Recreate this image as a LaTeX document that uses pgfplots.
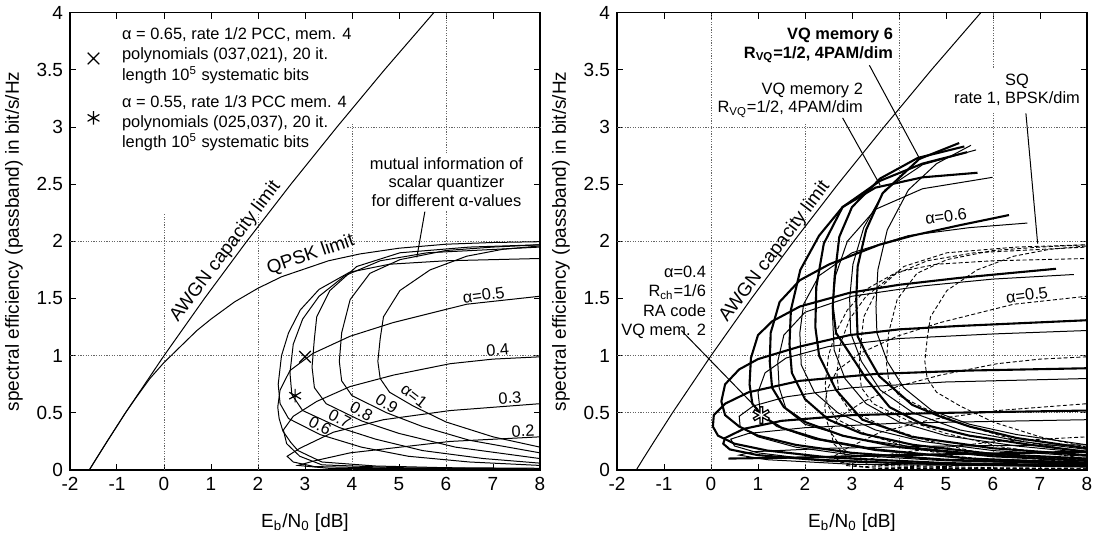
\documentclass[border=0pt]{standalone}
\usepackage{fontspec}
\setmainfont{Liberation Sans}
\usepackage{pgfplots}
\pgfplotsset{compat=1.18}
\usepackage{pgfplotstable}
\newcommand{\af}{\fontsize{8.2}{9.4}\selectfont}
\newcommand{\rf}{\fontsize{9.4}{11}\selectfont}
\newcommand{\tf}{\fontsize{9.5}{11}\selectfont}
\tikzset{
  gridl/.style={black!60, line width=0.5pt, dash pattern=on 0.6pt off 0.7pt},
  thn/.style={black, line width=0.5pt},
  thk/.style={black, line width=1.05pt},
  dsh/.style={black, line width=0.45pt, dash pattern=on 2pt off 1.2pt},
}
\pgfplotsset{
  myaxis/.style={
    scale only axis, width=235pt, height=228.65pt,
    xmin=-2, xmax=8, ymin=0, ymax=4,
    xtick={-2,-1,0,1,2,3,4,5,6,7,8},
    xticklabels={-2,-1,0,1,2,3,4,5,6,7,8},
    ytick={0,0.5,1,1.5,2,2.5,3,3.5,4},
    yticklabels={0,0.5,1,1.5,2,2.5,3,3.5,4},
    tick align=inside, major tick length=3pt,
    xtick pos=both, ytick pos=both,
    xticklabel pos=lower, yticklabel pos=left,
    tick style={black, line width=0.5pt},
    axis line style={line width=0.6pt},
    ticklabel style={font=\tf},
    label style={font=\tf},
    xlabel={E\textsubscript{b}/N\textsubscript{0} [dB]},
    ylabel={spectral efficiency (passband) in bit/s/Hz},
    xlabel style={at={(axis description cs:0.5,-0.114)}, anchor=center},
    ylabel style={at={(axis description cs:-0.119,0.5)}, anchor=center},
    clip mode=individual,
  },
}

\pgfplotstableread{
x y
8 0.2
7 0.29
6 0.42
5.3 0.56
4.8 0.68
4.6 0.8
4.55 0.95
4.6 1.15
4.67 1.34
5.02 1.57
5.66 1.75
6.44 1.87
7.2 1.93
8 1.96
}\sqa
\pgfplotstableread{
x y
8 0.15
6.5 0.26
5.5 0.38
4.74 0.5
4.0 0.65
3.78 0.78
3.73 0.95
3.78 1.2
3.96 1.49
4.38 1.72
5.02 1.84
6 1.92
7 1.95
8 1.97
}\sqb
\pgfplotstableread{
x y
8 0.1
6.2 0.2
5 0.32
4.2 0.43
3.45 0.58
3.2 0.72
3.15 0.9
3.2 1.15
3.25 1.34
3.53 1.57
4.1 1.78
5.02 1.9
6.5 1.95
8 1.97
}\sqc
\pgfplotstableread{
x y
8 0.06
6.8 0.1
5.5 0.17
4.5 0.27
3.74 0.37
2.95 0.52
2.72 0.66
2.68 0.85
2.75 1.1
2.95 1.32
3.3 1.52
3.85 1.7
4.6 1.83
5.6 1.9
8 1.95
}\sqd
\pgfplotstableread{
x y
8 0.04
6.5 0.07
5.2 0.12
4.2 0.2
3.32 0.31
2.65 0.45
2.47 0.58
2.43 0.75
2.5 1.0
2.65 1.2
2.9 1.4
3.3 1.58
3.95 1.73
4.8 1.8
6 1.83
8 1.85
}\sqe
\pgfplotstableread{
x y
8 0.015
6 0.02
4.5 0.035
3.36 0.07
2.85 0.17
2.7 0.24
2.53 0.34
2.45 0.45
2.42 0.55
2.47 0.7
2.68 0.87
3.17 1.02
3.96 1.17
4.88 1.29
6.44 1.45
8 1.52
}\sqf
\pgfplotstableread{
x y
8 0.01
5 0.02
3.36 0.045
2.89 0.12
2.61 0.23
2.54 0.35
2.75 0.47
3.25 0.6
3.96 0.73
4.88 0.83
6.09 0.93
7 0.97
8 0.99
}\sqg
\pgfplotstableread{
x y
8 0.008
5 0.015
3.2 0.03
2.75 0.07
2.62 0.12
2.89 0.19
3.6 0.33
4.67 0.44
6.09 0.52
8 0.58
}\sqh
\pgfplotstableread{
x y
8 0.005
3.5 0.015
2.85 0.04
3.2 0.08
3.96 0.15
6.09 0.25
8 0.29
}\sqi
\pgfplotstableread{
x y
-1.59 0
-1.44 0.1
-1.21 0.25
-0.82 0.5
-0.41 0.75
0 1
0.86 1.5
1.76 2
2.7 2.5
3.68 3
4.69 3.5
5.74 4
}\awgn

\begin{document}
\begin{tikzpicture}
\useasboundingbox (0,0) rectangle (552pt,270.5pt);
% ---------------- LEFT ----------------
\begin{axis}[myaxis, at={(35pt,35.5pt)}, anchor=south west]
\draw[gridl] (axis cs:0,0) -- (axis cs:0,2.25);
\draw[gridl] (axis cs:2,0) -- (axis cs:2,2.25);
\draw[gridl] (axis cs:4,0) -- (axis cs:4,3.03);
\draw[gridl] (axis cs:6,0) -- (axis cs:6,2.27);
\draw[gridl] (axis cs:6,2.77) -- (axis cs:6,4);
\draw[gridl] (axis cs:-2,1) -- (axis cs:8,1);
\draw[gridl] (axis cs:-2,2) -- (axis cs:8,2);
\draw[gridl] (axis cs:3.9,3) -- (axis cs:8,3);

\addplot[thn] table {\awgn};
\addplot[thn] coordinates {(-1.59,0)(-1.21,0.25)(-0.82,0.5)(-0.6,0.63)(-0.3,0.8)(0,0.94)(0.3,1.06)(0.7,1.22)(1,1.32)(1.5,1.47)(2,1.59)(2.5,1.69)(3,1.76)(3.5,1.83)(4.17,1.89)(5,1.94)(6,1.975)(7,1.99)(8,1.997)};
\addplot[thn] table {\sqa};
\addplot[thn] table {\sqb};
\addplot[thn] table {\sqc};
\addplot[thn] table {\sqd};
\addplot[thn] table {\sqe};
\addplot[thn] table {\sqf};
\addplot[thn] table {\sqg};
\addplot[thn] table {\sqh};
\addplot[thn] table {\sqi};

\addplot[only marks, mark=x, mark size=4.1pt, mark options={line width=0.6pt}] coordinates {(3.0,0.99)(-1.5,3.6)};
\addplot[only marks, mark=asterisk, mark size=3.4pt, mark options={line width=0.6pt}] coordinates {(2.79,0.65)(-1.5,3.08)};

\node[font={\fontsize{8.2}{10.4}\selectfont}, anchor=west, align=left, inner sep=0] at (axis cs:-0.9,3.625) {α = 0.65, rate 1/2 PCC, mem. 4\\polynomials (037,021), 20 it.\\length 10\textsuperscript{5} systematic bits};
\node[font={\fontsize{8.2}{10}\selectfont}, anchor=west, align=left, inner sep=0] at (axis cs:-0.9,3.035) {α = 0.55, rate 1/3 PCC mem. 4\\polynomials (025,037), 20 it.\\length 10\textsuperscript{5} systematic bits};

\node[font=\rf, rotate=53, inner sep=0] at (axis cs:1.31,1.91) {AWGN capacity limit};
\node[font=\rf, rotate=19, inner sep=0] at (axis cs:3.12,1.88) {QPSK limit};
\node[font={\fontsize{8.2}{9.2}\selectfont}, align=center, inner sep=0] at (axis cs:6.01,2.52) {mutual information of\\scalar quantizer\\for different α-values};
\draw[thn] (axis cs:5.55,2.26) -- (axis cs:5.38,1.86);

\node[font=\af, rotate=8, inner sep=0] at (axis cs:6.8,1.53) {α=0.5};
\node[font=\af, rotate=5, inner sep=0] at (axis cs:7.1,1.05) {0.4};
\node[font=\af, rotate=4, inner sep=0] at (axis cs:7.36,0.63) {0.3};
\node[font=\af, rotate=3, inner sep=0] at (axis cs:7.64,0.34) {0.2};
\node[font=\af, rotate=-28, inner sep=0] at (axis cs:3.32,0.39) {0.6};
\node[font=\af, rotate=-28, inner sep=0] at (axis cs:3.74,0.45) {0.7};
\node[font=\af, rotate=-30, inner sep=0] at (axis cs:4.2,0.51) {0.8};
\node[font=\af, rotate=-32, inner sep=0] at (axis cs:4.74,0.58) {0.9};
\node[font=\af, rotate=-38, inner sep=0] at (axis cs:5.32,0.65) {α=1};
\end{axis}

% ---------------- RIGHT ----------------
\begin{axis}[myaxis, at={(308.5pt,35.5pt)}, anchor=south west]
\draw[gridl] (axis cs:0,0) -- (axis cs:0,4);
\draw[gridl] (axis cs:2,0) -- (axis cs:2,3.03);
\draw[gridl] (axis cs:4,0) -- (axis cs:4,4);
\draw[gridl] (axis cs:6,0) -- (axis cs:6,3.12);
\draw[gridl] (axis cs:6,3.52) -- (axis cs:6,4);
\draw[gridl] (axis cs:-2,0.5) -- (axis cs:8,0.5);
\draw[gridl] (axis cs:-2,1) -- (axis cs:8,1);
\draw[gridl] (axis cs:-2,2) -- (axis cs:8,2);
\draw[gridl] (axis cs:-2,3) -- (axis cs:8,3);

\addplot[thn] table {\awgn};
% SQ dashed
\addplot[dsh] table {\sqa};
\addplot[dsh] table {\sqb};
\addplot[dsh] table {\sqc};
\addplot[dsh] table {\sqd};
\addplot[dsh] table {\sqe};
\addplot[dsh] table {\sqf};
\addplot[dsh] table {\sqg};
\addplot[dsh] table {\sqh};
\addplot[dsh] table {\sqi};
% VQ memory 2 (thin)
\addplot[thn] coordinates {(8,0.22)(6.5,0.31)(5.5,0.4)(4.7,0.52)(4.1,0.72)(3.75,0.95)(3.53,1.2)(3.51,1.43)(3.55,1.75)(3.75,2.1)(4.2,2.45)(4.8,2.68)(5.53,2.84)};
\addplot[thn] coordinates {(8,0.18)(6.6,0.25)(5.3,0.35)(4.3,0.5)(3.6,0.7)(3.2,0.95)(2.97,1.2)(2.95,1.5)(3.02,1.8)(3.25,2.12)(3.7,2.45)(4.5,2.67)(5.64,2.8)};
\addplot[thn] coordinates {(8,0.15)(6.5,0.21)(5,0.3)(4,0.42)(3.3,0.58)(2.85,0.8)(2.62,1.05)(2.58,1.4)(2.65,1.7)(2.9,2.0)(3.5,2.28)(4.5,2.46)(5.99,2.56)};
\addplot[thn] coordinates {(8,0.12)(6,0.17)(4.5,0.25)(3.5,0.35)(2.7,0.5)(2.2,0.68)(1.92,0.92)(1.89,1.2)(1.97,1.45)(2.3,1.7)(3.0,1.9)(4.2,2.05)(5.5,2.12)(6.73,2.16)};
\addplot[thn] coordinates {(8,0.09)(6,0.13)(4.5,0.19)(3,0.28)(2,0.4)(1.6,0.53)(1.45,0.72)(1.42,0.95)(1.55,1.18)(2.0,1.38)(3.0,1.52)(4.5,1.61)(6,1.67)(7.72,1.71)};
\addplot[thn] coordinates {(8,0.07)(5.5,0.1)(3.5,0.17)(2.2,0.27)(1.4,0.38)(1.05,0.5)(1.0,0.68)(1.15,0.85)(1.6,0.98)(2.5,1.08)(4,1.15)(6,1.19)(8,1.22)};
\addplot[thn] coordinates {(8,0.05)(5,0.08)(3,0.13)(1.8,0.2)(1.0,0.29)(0.62,0.38)(0.6,0.47)(0.9,0.56)(1.6,0.64)(3,0.72)(5,0.77)(8,0.8)};
\addplot[thn] coordinates {(8,0.04)(4,0.06)(2,0.1)(1,0.15)(0.5,0.21)(0.42,0.27)(0.8,0.32)(2,0.37)(4,0.41)(8,0.44)};
\addplot[thn] coordinates {(8,0.03)(3,0.05)(1.2,0.09)(0.6,0.13)(0.9,0.16)(2.5,0.19)(5,0.21)(8,0.22)};
% VQ memory 6 (thick)
\addplot[thk] coordinates {(8,0.19)(6.5,0.28)(5.5,0.38)(4.86,0.47)(4.28,0.57)(3.58,0.82)(3.3,1.02)(3.12,1.17)(3.09,1.49)(3.12,1.78)(3.3,2.1)(3.65,2.42)(4.43,2.72)(5.28,2.86)};
\addplot[thk] coordinates {(8,0.16)(6.8,0.22)(5.5,0.3)(4.5,0.4)(3.8,0.55)(3.3,0.8)(2.95,1.02)(2.66,1.2)(2.59,1.43)(2.63,1.69)(2.73,2.04)(3.0,2.3)(3.6,2.55)(4.4,2.73)(5.39,2.83)};
\addplot[thk] coordinates {(8,0.13)(6,0.19)(4.28,0.29)(3.22,0.44)(2.66,0.7)(2.3,1.0)(2.22,1.25)(2.24,1.6)(2.4,1.98)(2.8,2.3)(3.6,2.53)(4.5,2.68)(5.45,2.78)};
\addplot[thk] coordinates {(8,0.1)(6,0.14)(4.3,0.22)(3.2,0.32)(2.5,0.44)(2.0,0.62)(1.72,0.85)(1.67,1.1)(1.7,1.4)(1.9,1.75)(2.3,2.05)(2.8,2.3)(3.5,2.47)(4.5,2.56)(5.67,2.6)};
\addplot[thk] coordinates {(8,0.08)(6,0.12)(4,0.2)(2.8,0.3)(2.0,0.42)(1.55,0.55)(1.3,0.72)(1.25,0.95)(1.27,1.2)(1.46,1.47)(1.89,1.66)(2.52,1.8)(3.58,1.97)(4.29,2.05)(5.28,2.14)(6.34,2.23)};
\addplot[thk] coordinates {(8,0.06)(5.5,0.1)(3.5,0.18)(2.3,0.27)(1.5,0.37)(1.1,0.47)(0.88,0.58)(0.82,0.75)(0.85,0.98)(1.0,1.18)(1.3,1.3)(1.89,1.43)(2.95,1.55)(4,1.62)(5.28,1.68)(6.3,1.72)(7.34,1.76)};
\addplot[thk] coordinates {(8,0.05)(5,0.09)(3,0.15)(1.8,0.22)(1.0,0.3)(0.6,0.38)(0.3,0.48)(0.22,0.6)(0.3,0.75)(0.6,0.88)(1.0,0.97)(1.89,1.08)(2.95,1.18)(4,1.23)(5.28,1.26)(8,1.31)};
\addplot[thk] coordinates {(8,0.04)(5,0.06)(2.5,0.11)(1.2,0.17)(0.5,0.23)(0.15,0.3)(0.04,0.38)(0.06,0.48)(0.3,0.58)(0.8,0.68)(1.89,0.78)(3.5,0.84)(5.5,0.87)(8,0.89)};
\addplot[thk] coordinates {(8,0.03)(5,0.05)(2.5,0.08)(1,0.13)(0.4,0.18)(0.26,0.23)(0.3,0.28)(0.7,0.36)(1.5,0.43)(3,0.48)(5,0.5)(8,0.52)};
\addplot[thk] coordinates {(0.37,0.1)(2,0.11)(4,0.13)(8,0.16)};

\addplot[only marks, mark=asterisk, mark size=4.5pt, mark options={line width=2pt, black}] coordinates {(1.07,0.48)};
\addplot[only marks, mark=asterisk, mark size=3.8pt, mark options={line width=0.6pt, white}] coordinates {(1.07,0.48)};

\node[font={\fontsize{8.2}{9.3}\selectfont\bfseries}, anchor=east, align=right, inner sep=0] at (axis cs:3.88,3.71) {VQ memory 6\\R\textsubscript{VQ}=1/2, 4PAM/dim};
\node[font={\fontsize{8.2}{9}\selectfont}, anchor=east, align=right, inner sep=0] at (axis cs:3.24,3.235) {VQ memory 2\\R\textsubscript{VQ}=1/2, 4PAM/dim};
\node[font={\fontsize{8.2}{9}\selectfont}, align=center, inner sep=0] at (axis cs:6.51,3.325) {SQ\\rate 1, BPSK/dim};
\draw[thn] (axis cs:3.37,3.54) -- (axis cs:4.43,2.73);
\draw[thn] (axis cs:2.8,3.08) -- (axis cs:3.6,2.49);
\draw[thn] (axis cs:6.70,3.12) -- (axis cs:6.95,1.98);
\draw[thn] (axis cs:-0.63,1.22) -- (axis cs:1.0,0.53);
\node[font={\fontsize{8.2}{9.7}\selectfont}, anchor=east, align=right, inner sep=0] at (axis cs:-0.1,1.465) {α=0.4\\R\textsubscript{ch}=1/6\\RA code\\VQ mem. 2};
\node[font=\rf, rotate=53, inner sep=0] at (axis cs:1.36,1.91) {AWGN capacity limit};
\node[font=\af, rotate=8, inner sep=0] at (axis cs:5.0,2.22) {α=0.6};
\node[font=\af, rotate=8, inner sep=0] at (axis cs:6.72,1.53) {α=0.5};
\end{axis}
\end{tikzpicture}
\end{document}
